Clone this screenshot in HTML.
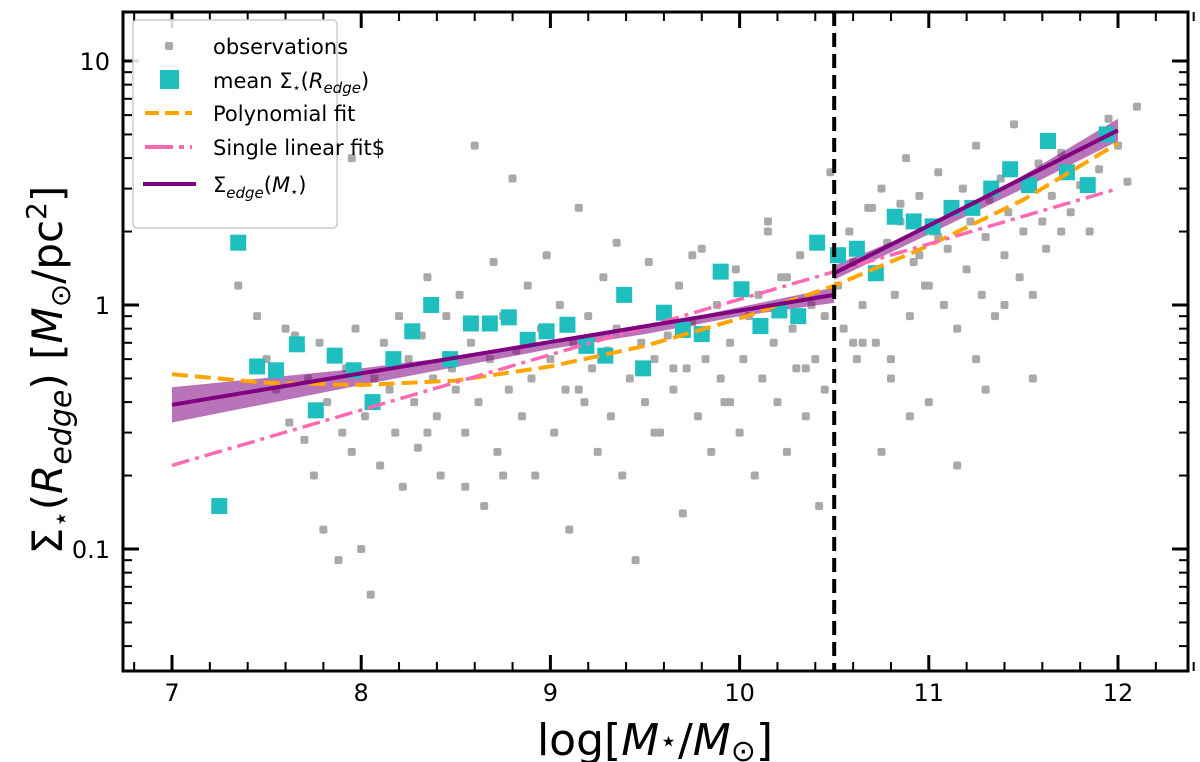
<!DOCTYPE html>
<html><head><meta charset="utf-8"><style>
body{margin:0;background:#fff;}
svg{display:block;font-family:"DejaVu Sans","Liberation Sans",sans-serif;}
</style></head><body>
<svg id="chart" width="1200" height="762" viewBox="0 0 1200 762" xmlns="http://www.w3.org/2000/svg">
<g id="plot"></g>
<g id="axes"></g>
<g id="legend"></g>
<text x="655" y="755" font-size="44" text-anchor="middle">log[<tspan font-style="italic">M</tspan><tspan font-size="30" dy="-4">⋆</tspan><tspan dy="4">/</tspan><tspan font-style="italic">M</tspan><tspan font-size="30" dy="6">⊙</tspan><tspan dy="-6">]</tspan></text>
<text transform="translate(62,370) rotate(-90)" font-size="42" text-anchor="middle">Σ<tspan font-size="28" dy="8">⋆</tspan><tspan dy="-8">(</tspan><tspan font-style="italic">R</tspan><tspan font-style="italic" font-size="30" dy="9">edge</tspan><tspan dy="-9">) [</tspan><tspan font-style="italic">M</tspan><tspan font-size="28" dy="8">⊙</tspan><tspan dy="-8">/pc</tspan><tspan font-size="28" dy="-16">2</tspan><tspan dy="16">]</tspan></text>
</svg>
<script>
const obsX=[7.25,7.35,7.45,7.5,7.55,7.6,7.62,7.65,7.7,7.72,7.75,7.78,7.8,7.82,7.85,7.88,7.9,7.92,7.95,7.97,8.0,8.02,8.05,8.07,8.1,8.12,8.15,8.18,8.2,8.22,8.25,8.28,8.3,8.32,8.35,8.38,8.4,8.42,8.45,8.48,8.5,8.52,8.55,8.58,8.6,8.62,8.65,8.68,8.7,8.72,8.75,8.78,8.8,8.82,8.85,8.88,8.9,8.92,8.95,8.98,9.0,9.02,9.05,9.08,9.1,9.12,9.15,9.18,9.2,9.22,9.25,9.28,9.3,9.32,9.35,9.38,9.4,9.42,9.45,9.48,9.5,9.52,9.55,9.58,9.6,9.62,9.65,9.68,9.7,9.72,9.75,9.78,9.8,9.82,9.85,9.88,9.9,9.92,9.95,9.98,10.0,10.02,10.05,10.08,10.1,10.12,10.15,10.18,10.2,10.22,10.25,10.28,10.3,10.32,10.35,10.38,10.4,10.42,10.45,10.48,10.52,10.55,10.58,10.6,10.62,10.65,10.68,10.7,10.72,10.75,10.78,10.8,10.82,10.85,10.88,10.9,10.92,10.95,10.98,11.0,11.02,11.05,11.08,11.1,11.12,11.15,11.18,11.2,11.22,11.25,11.28,11.3,11.32,11.35,11.38,11.4,11.42,11.45,11.48,11.5,11.52,11.55,11.58,11.6,11.62,11.65,11.7,11.75,11.8,11.85,11.9,11.95,12.0,12.05,12.1,7.95,8.35,8.75,9.15,9.55,9.95,10.35,10.75,11.15,11.55,10.45,10.9,10.6,11.3,10.8,8.55,9.35,9.75,10.15,10.7,11.0,11.4,11.7,10.95,11.25,10.65,10.85,11.05,10.25,9.65];
const obsY=[0.15,1.2,0.9,0.6,0.45,0.8,0.33,0.75,0.28,0.5,0.2,0.7,0.12,0.4,0.6,0.09,0.3,0.55,0.25,0.8,0.1,0.35,0.065,0.5,0.22,0.7,0.45,0.3,0.9,0.18,0.6,0.4,0.26,0.75,1.3,0.5,0.35,0.2,0.9,0.55,0.45,1.1,0.3,0.7,4.5,0.4,0.15,0.6,1.5,0.25,0.9,0.45,3.3,0.65,0.35,1.2,0.5,0.2,0.8,1.6,0.6,0.3,1.0,0.45,0.12,0.7,2.5,0.4,0.9,0.55,0.25,1.3,0.65,0.35,0.8,0.2,1.1,0.5,0.09,0.7,0.4,1.5,0.6,0.3,0.95,0.75,0.45,1.2,0.14,0.55,0.85,0.35,1.7,0.6,0.25,1.0,0.5,0.4,0.7,1.4,0.3,0.6,0.9,0.2,1.1,0.5,2.0,0.7,0.4,1.3,0.25,0.8,0.55,1.6,0.35,1.0,0.6,0.15,0.45,3.5,1.2,0.8,2.0,1.5,0.6,1.0,2.5,1.3,0.7,3.0,1.8,0.5,1.1,2.2,4.0,0.9,1.5,2.8,1.2,0.4,2.0,3.5,1.0,1.7,2.5,0.8,3.0,1.4,2.2,4.5,1.1,1.9,2.7,0.9,3.3,1.6,2.4,5.5,1.3,2.0,3.0,1.1,3.8,2.2,1.7,2.8,4.2,2.4,3.1,2.0,3.6,5.8,4.5,3.2,6.5,4.0,0.3,0.2,0.45,0.3,0.4,0.55,0.25,0.22,0.5,0.9,0.35,0.7,0.45,0.6,0.18,1.8,1.6,2.2,2.5,1.2,1.0,2.0,1.6,0.6,0.7,2.6,1.9,1.3,0.55,0.4];
const meanX=[7.25,7.35,7.45,7.55,7.66,7.76,7.86,7.96,8.06,8.17,8.27,8.37,8.47,8.58,8.68,8.78,8.88,8.98,9.09,9.19,9.29,9.39,9.49,9.6,9.7,9.8,9.9,10.01,10.11,10.21,10.31,10.41,10.52,10.62,10.72,10.82,10.92,11.02,11.12,11.23,11.33,11.43,11.53,11.63,11.73,11.84,11.94];
const meanY=[0.15,1.8,0.56,0.54,0.69,0.37,0.62,0.54,0.4,0.6,0.78,1.0,0.6,0.84,0.84,0.89,0.72,0.78,0.83,0.68,0.62,1.1,0.55,0.93,0.79,0.76,1.37,1.16,0.82,0.95,0.9,1.8,1.6,1.7,1.35,2.3,2.2,2.1,2.5,2.5,3.0,3.6,3.1,4.7,3.5,3.1,5.0];
const polyX=[7,7.5,8,8.5,9,9.5,10,10.5,11,11.5,12];
const polyY=[0.52,0.48,0.47,0.49,0.56,0.68,0.88,1.2,1.75,2.7,4.6];
const linX=[7,12];
const linY=[0.22,3.0];
const fitLoX=[7,10.5], fitLoY=[0.39,1.1];
const fitHiX=[10.5,12], fitHiY=[1.35,5.2];
const bandX=[7,8,9,9.5,10,10.5];
const bandLo=[0.33,0.47,0.66,0.76,0.9,1.02];
const bandHi=[0.46,0.55,0.69,0.81,0.98,1.18];
const band2X=[10.5,11,11.5,12];
const band2Lo=[1.27,1.95,3.0,4.7];
const band2Hi=[1.45,2.1,3.4,5.8];
const xTicks=[7,8,9,10,11,12];
const yTicks=[0.1,1,10];
const yTickLabels=["0.1","1","10"];
const breakX=10.5;

const NS="http://www.w3.org/2000/svg";
const L=123,R=1188,T=12,B=671;
const sx=v=>172+(v-7)*189.2;
const sy=v=>305-Math.log10(v)*244;
function mk(tag,attrs,parent){const e=document.createElementNS(NS,tag);for(const k in attrs)e.setAttribute(k,attrs[k]);parent.appendChild(e);return e;}
const plot=document.getElementById('plot'),axes=document.getElementById('axes'),leg=document.getElementById('legend');
const cp=mk('clipPath',{id:'clip'},plot);
mk('rect',{x:L,y:T,width:R-L,height:B-T},cp);
const g=mk('g',{'clip-path':'url(#clip)'},plot);
obsX.forEach((x,i)=>{const r=mk('rect',{x:sx(x)-4,y:sy(obsY[i])-4,width:8,height:8,rx:2,fill:'#a9a9a9'},g);

});
function poly(xs,ys){return xs.map((x,i)=>sx(x).toFixed(1)+','+sy(ys[i]).toFixed(1)).join(' ');}
function bandPts(xs,lo,hi){return poly(xs,hi)+' '+poly(xs.slice().reverse(),lo.slice().reverse());}
const b1=mk('polygon',{points:bandPts(bandX,bandLo,bandHi),fill:'#800080','fill-opacity':0.55},g);


const b2=mk('polygon',{points:bandPts(band2X,band2Lo,band2Hi),fill:'#800080','fill-opacity':0.55},g);


meanX.forEach((x,i)=>{const r=mk('rect',{x:sx(x)-8,y:sy(meanY[i])-8,width:16,height:16,fill:'#1fbfbf'},g);

});
const pl=mk('polyline',{points:poly(polyX,polyY),fill:'none',stroke:'#ffa500','stroke-width':4,'stroke-dasharray':'16 7'},g);


const ll=mk('polyline',{points:poly(linX,linY),fill:'none',stroke:'#ff69b4','stroke-width':3.5,'stroke-dasharray':'18 6 4 6'},g);


const f1=mk('polyline',{points:poly(fitLoX,fitLoY),fill:'none',stroke:'#800080','stroke-width':4},g);


const f2=mk('polyline',{points:poly(fitHiX,fitHiY),fill:'none',stroke:'#800080','stroke-width':4},g);


const vl=mk('line',{x1:sx(breakX),x2:sx(breakX),y1:T,y2:B,stroke:'#000','stroke-width':4,'stroke-dasharray':'14 7'},g);


const fr=mk('rect',{x:L,y:T,width:R-L,height:B-T,fill:'none',stroke:'#000','stroke-width':3},axes);


for(let v=6.8;v<=12.41;v+=0.2){const x=sx(v);const major=Math.abs(v-Math.round(v))<0.01;const len=major?16:9;
mk('line',{x1:x,x2:x,y1:B,y2:B-len,stroke:'#000','stroke-width':major?3:2},axes);
mk('line',{x1:x,x2:x,y1:T,y2:T+len,stroke:'#000','stroke-width':major?3:2},axes);}
xTicks.forEach(v=>{const t=mk('text',{x:sx(v),y:701,'font-size':24,'text-anchor':'middle'},axes);t.textContent=v;

});
for(let d=-2;d<=1;d++){for(let m=1;m<10;m++){const v=m*Math.pow(10,d);const y=sy(v);if(y<T||y>B)continue;const major=m===1;const len=major?16:9;
mk('line',{x1:L,x2:L+len,y1:y,y2:y,stroke:'#000','stroke-width':major?3:2},axes);
mk('line',{x1:R,x2:R-len,y1:y,y2:y,stroke:'#000','stroke-width':major?3:2},axes);}}
yTicks.forEach((v,i)=>{const t=mk('text',{x:110,y:sy(v)+9,'font-size':24,'text-anchor':'end'},axes);t.textContent=yTickLabels[i];

});
const lb=mk('rect',{x:133,y:20,width:204,height:208,rx:4,fill:'#fff','fill-opacity':0.85,stroke:'#ccc','stroke-width':1.5},leg);


const entries=[
 ['observations','obs'],['mean Σ<tspan font-size="13" dy="4">⋆</tspan><tspan dy="-4">(</tspan><tspan font-style="italic">R</tspan><tspan font-style="italic" font-size="15" dy="5">edge</tspan><tspan dy="-5">)</tspan>','mean'],
 ['Polynomial fit','poly'],['Single linear fit$','lin'],['Σ<tspan font-style="italic" font-size="15" dy="6">edge</tspan><tspan dy="-6">(</tspan><tspan font-style="italic">M</tspan><tspan font-size="13" dy="4">⋆</tspan><tspan dy="-4">)</tspan>','fit']];
const ey=[46,80,113,147,184];
entries.forEach((e,i)=>{const y=ey[i];const grp=mk('g',{},leg);


if(e[1]==='obs')mk('rect',{x:165,y:y-4,width:8,height:8,rx:2,fill:'#a9a9a9'},grp);
if(e[1]==='mean')mk('rect',{x:160,y:y-10,width:19,height:19,fill:'#1fbfbf'},grp);
if(e[1]==='poly')mk('line',{x1:145,x2:192,y1:y,y2:y,stroke:'#ffa500','stroke-width':4,'stroke-dasharray':'14 6'},grp);
if(e[1]==='lin')mk('line',{x1:145,x2:192,y1:y,y2:y,stroke:'#ff69b4','stroke-width':4,'stroke-dasharray':'28 6 5 6'},grp);
if(e[1]==='fit')mk('line',{x1:143,x2:196,y1:y,y2:y,stroke:'#800080','stroke-width':4},grp);
const t=mk('text',{x:213,y:y+8,'font-size':21},grp);t.innerHTML=e[0];});
</script>
</body></html>
